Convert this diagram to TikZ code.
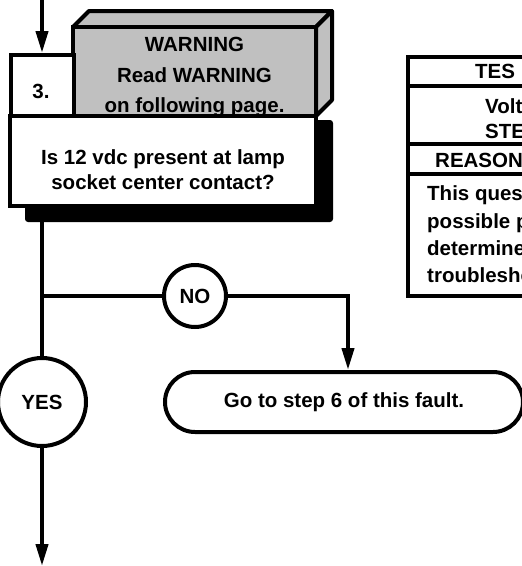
\documentclass[tikz,border=0pt]{standalone}
\usepackage{fontspec}
\setmainfont{Liberation Sans}
\usetikzlibrary{arrows.meta}
\definecolor{warngray}{HTML}{C0C0C0}
\begin{document}
\begin{tikzpicture}[x=1pt,y=-1pt,
  lw/.style={line width=4pt},
  txt/.style={font=\fontsize{20.5}{25}\selectfont\bfseries, align=center, inner sep=0pt},
  box/.style={draw, line width=4pt, fill=white, inner sep=0pt},
  arr/.style={line width=4pt, -{Triangle[length=22pt,width=12pt]}},
  tbl/.style={font=\fontsize{20.5}{25}\selectfont\bfseries, inner sep=0pt, anchor=base west}
]
\path[use as bounding box] (0,0) rectangle (522,566);
\clip (0,0) rectangle (522,566);

% shadow
\node[fill=black, rounded corners=3pt, minimum width=308pt, minimum height=102pt, inner sep=0pt] (shadow) at (179,171) {};

% question box
\node[box, minimum width=306pt, minimum height=90pt] (q) at (163,161) {};
\node[txt] (qt) at (163,170) {Is 12 vdc present at lamp\\socket center contact?};

% warning 3D box
\filldraw[fill=warngray, line width=4pt, line join=round] (73,27) -- (89,11) -- (332,11) -- (316,27) -- cycle;
\filldraw[fill=warngray, line width=4pt, line join=round] (316,27) -- (332,11) -- (332,100) -- (316,116) -- cycle;
\node[box, fill=warngray, minimum width=243pt, minimum height=89pt] (warn) at (194.5,71.5) {};
\node[txt, font=\fontsize{20.5}{30.5}\selectfont\bfseries] (wt) at (194.5,77.5) {WARNING\\Read WARNING\\on following page.};

% step number box
\node[box, minimum width=63pt, minimum height=61pt] (num) at (42,85.5) {};
\node[txt] (numt) at (41,91) {3.};

% table
\draw[line width=4pt, line join=miter] (540,57) -- (408,57) -- (408,296) -- (540,296);
\draw[line width=4.5pt] (408,86) -- (540,86);
\draw[line width=4.5pt] (408,144) -- (540,144);
\draw[line width=4.5pt] (408,174) -- (540,174);
\node[tbl] (t1) at (475,78.5) {TES};
\node[tbl] (t2) at (485,113.5) {Volt};
\node[tbl] (t3) at (485,138.5) {STE};
\node[tbl] (t4) at (435,167) {REASON};
\node[tbl] (t5) at (427,200.5) {This ques};
\node[tbl] (t6) at (427,228.5) {possible p};
\node[tbl] (t7) at (427,255.5) {determine};
\node[tbl] (t8) at (427,282.5) {troublesho};

% decision circles and target box
\node[box, circle, minimum size=62pt, txt, draw, line width=4pt, fill=white] (no) at (195,296) {NO};
\node[box, circle, minimum size=88pt, txt, draw, line width=4pt, fill=white] (yes) at (42,402) {YES};
\node[box, rounded corners=30pt, minimum width=358pt, minimum height=60pt, txt, draw, line width=4pt] (go) at (344,402) {Go to step 6 of this fault.};

% connectors
\coordinate (top) at (42,-4);
\coordinate (j) at (42,296);
\coordinate (corner) at (348,296);
\coordinate (bot) at (42,566);
\draw[arr] (top) -- (num.north);
\draw[lw] (shadow.south -| yes.north) -- (yes.north);
\draw[lw] (j) -- (no.west);
\draw[arr, line join=miter] (no.east) -- (corner) -- (corner |- go.north);
\draw[arr] (yes.south) -- (bot);
\end{tikzpicture}
\end{document}
